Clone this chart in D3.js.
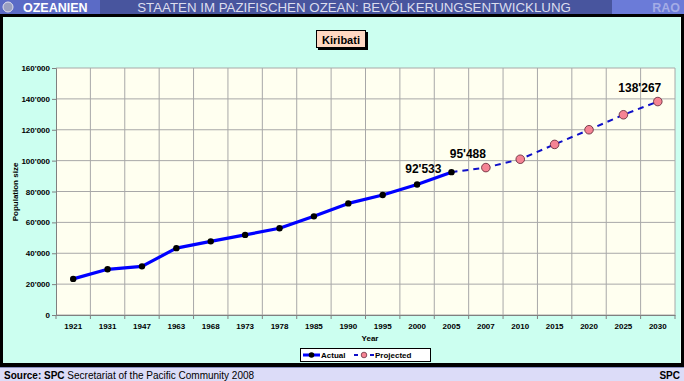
<!DOCTYPE html>
<html><head><meta charset="utf-8">
<script src="https://cdn.jsdelivr.net/npm/d3@7"></script>
<style>html,body{margin:0;padding:0;background:#fff}svg{display:block}</style>
</head><body>
<svg id="c" width="684" height="381"></svg>
<script>
const years = ["1921","1931","1947","1963","1968","1973","1978","1985","1990","1995","2000","2005","2007","2010","2015","2020","2025","2030"];
const actual = [23400,29600,31500,43300,47700,51900,56200,63900,72300,77700,84500,92533,null,null,null,null,null,null];
const projected = [null,null,null,null,null,null,null,null,null,null,null,92533,95488,100900,110500,120000,129700,138267];
const yTicks = [0,20000,40000,60000,80000,100000,120000,140000,160000];
const dataLabels = [{series:"actual",year:"2005",value:92533,text:"92'533"},{series:"projected",year:"2007",value:95488,text:"95'488"},{series:"projected",year:"2030",value:138267,text:"138'267"}];
const headerLeft = "OZEANIEN";
const headerTitle = "STAATEN IM PAZIFISCHEN OZEAN: BEVÖLKERUNGSENTWICKLUNG";
const headerRight = "RAO";
const chartTitle = "Kiribati";

const svg = d3.select("#c");
const F = "'Liberation Sans', Arial, sans-serif";
const fmt = v => d3.format(",")(v).replace(/,/g, "'");

// header
svg.append("rect").attr("x",0).attr("y",0).attr("width",684).attr("height",14).attr("fill","#48559e");
svg.append("rect").attr("x",0).attr("y",0).attr("width",100).attr("height",14).attr("fill","#5b6bc6");
svg.append("rect").attr("x",612).attr("y",0).attr("width",72).attr("height",14).attr("fill","#6b7bd8");
svg.append("circle").attr("cx",8).attr("cy",7).attr("r",5).attr("fill","#9aa0c0").attr("stroke","#e0e0f0").attr("stroke-width",1);
svg.append("text").attr("x",23).attr("y",12).attr("font-family",F).attr("font-weight","bold").attr("font-size",12.5).attr("fill","#ffffff").text(headerLeft);
svg.append("text").attr("x",354).attr("y",12).attr("text-anchor","middle").attr("font-family",F).attr("font-size",13.3).attr("fill","#dcdeee").text(headerTitle);
svg.append("text").attr("x",680).attr("y",12).attr("text-anchor","end").attr("font-family",F).attr("font-weight","bold").attr("font-size",12.5).attr("fill","#a4ace6").text(headerRight);

// panel
svg.append("rect").attr("x",0).attr("y",14).attr("width",684).attr("height",353).attr("fill","#000");
svg.append("rect").attr("x",3).attr("y",17).attr("width",677).attr("height",346).attr("fill","#ccfff0");
svg.append("line").attr("x1",680.5).attr("x2",680.5).attr("y1",17).attr("y2",363).attr("stroke","#e8fff8");

// footer
svg.append("rect").attr("x",0).attr("y",367).attr("width",684).attr("height",14).attr("fill","#dcdcf8");
svg.append("line").attr("x1",0).attr("x2",684).attr("y1",367.5).attr("y2",367.5).attr("stroke","#8890c0");
const ft = svg.append("text").attr("x",4).attr("y",378.5).attr("font-family",F).attr("font-size",10).attr("fill","#000");
ft.append("tspan").attr("font-weight","bold").text("Source: SPC");
ft.append("tspan").text(" Secretariat of the Pacific Community 2008");
svg.append("text").attr("x",680).attr("y",378.5).attr("text-anchor","end").attr("font-family",F).attr("font-weight","bold").attr("font-size",10).text("SPC");

// chart title box
svg.append("rect").attr("x",318).attr("y",32).attr("width",50).attr("height",18).attr("fill","#000");
svg.append("rect").attr("x",316.5).attr("y",30.5).attr("width",49).attr("height",17).attr("fill","#ffd8c2").attr("stroke","#000");
svg.append("text").attr("x",341).attr("y",43.5).attr("text-anchor","middle").attr("font-family",F).attr("font-weight","bold").attr("font-size",11).text(chartTitle);

// scales
const L = 56, R = 675, T = 68, B = 315;
const x = d3.scaleBand().domain(years).range([L, R]).padding(0);
const y = d3.scaleLinear().domain([0,160000]).range([B, T]);
const cx = d => x(d) + x.bandwidth()/2;

svg.append("rect").attr("x",L).attr("y",T).attr("width",R-L).attr("height",B-T).attr("fill","#fffff0");

const g = svg.append("g");
g.selectAll(".hg").data(yTicks).join("line").attr("x1",L).attr("x2",R).attr("y1",d=>y(d)).attr("y2",d=>y(d)).attr("stroke","#a8a8a8");
g.selectAll(".vg").data(years.slice(1)).join("line").attr("x1",d=>x(d)).attr("x2",d=>x(d)).attr("y1",T).attr("y2",B).attr("stroke","#a8a8a8");
g.append("line").attr("x1",R).attr("x2",R).attr("y1",T).attr("y2",B).attr("stroke","#a8a8a8");

// axes
const yAxis = d3.axisLeft(y).tickValues(yTicks).tickFormat(fmt).tickSize(4).tickPadding(2);
const ya = svg.append("g").attr("transform",`translate(${L},0)`).call(yAxis);
ya.selectAll("text").attr("font-family",F).attr("font-weight","bold").attr("font-size",8).attr("fill","#000");
ya.selectAll("line,path").attr("stroke","#808080");

const xAxis = d3.axisBottom(x).tickSize(0).tickPadding(8);
const xa = svg.append("g").attr("transform",`translate(0,${B})`).call(xAxis);
xa.select("path").attr("stroke","#808080");
xa.selectAll("text").attr("font-family",F).attr("font-weight","bold").attr("font-size",8).attr("fill","#000");
xa.selectAll(".bt").data(years.slice(1).concat([null])).join("line")
  .attr("x1",d=>d?x(d):R).attr("x2",d=>d?x(d):R).attr("y1",0).attr("y2",4).attr("stroke","#808080");
svg.append("line").attr("x1",L).attr("x2",L).attr("y1",B).attr("y2",B+4).attr("stroke","#808080");

svg.append("text").attr("x",370).attr("y",341).attr("text-anchor","middle").attr("font-family",F).attr("font-weight","bold").attr("font-size",8).text("Year");
svg.append("text").attr("transform",`translate(18,192) rotate(-90)`).attr("text-anchor","middle").attr("font-family",F).attr("font-weight","bold").attr("font-size",8).text("Population size");

// lines
const line = d3.line().defined(d=>d.v!=null).x(d=>cx(d.k)).y(d=>y(d.v));
const pData = years.map((k,i)=>({k, v:projected[i]}));
const aData = years.map((k,i)=>({k, v:actual[i]}));
svg.append("path").datum(pData).attr("d",line).attr("fill","none").attr("stroke","#1010c8").attr("stroke-width",2).attr("stroke-dasharray","6,5");
svg.append("path").datum(aData).attr("d",line).attr("fill","none").attr("stroke","#0000ff").attr("stroke-width",3.2).attr("stroke-linejoin","round");
svg.selectAll(".pm").data(pData.filter((d,i)=>d.v!=null && actual[i]==null)).join("circle")
  .attr("cx",d=>cx(d.k)).attr("cy",d=>y(d.v)).attr("r",4.3).attr("fill","#f58494").attr("stroke","#5a2030").attr("stroke-width",0.8);
svg.selectAll(".am").data(aData.filter(d=>d.v!=null)).join("circle")
  .attr("cx",d=>cx(d.k)).attr("cy",d=>y(d.v)).attr("r",3.2).attr("fill","#000");

// data labels: actual series labels sit left of the point, projected above-left
svg.selectAll(".dl").data(dataLabels).join("text")
  .attr("x",d=>d.series==="actual" ? cx(d.year)-10 : cx(d.year)-18)
  .attr("y",d=>d.series==="actual" ? y(d.value)+1 : y(d.value)-10)
  .attr("text-anchor",d=>d.series==="actual" ? "end" : "middle")
  .attr("font-family",F).attr("font-weight","bold").attr("font-size",12).text(d=>d.text);

// legend
const lg = svg.append("g");
lg.append("rect").attr("x",300.5).attr("y",348.5).attr("width",130).attr("height",13).attr("fill","#fff").attr("stroke","#000");
lg.append("line").attr("x1",303).attr("x2",320).attr("y1",355).attr("y2",355).attr("stroke","#0000ff").attr("stroke-width",3);
lg.append("circle").attr("cx",311.5).attr("cy",355).attr("r",2.8).attr("fill","#000");
lg.append("text").attr("x",321).attr("y",358).attr("font-family",F).attr("font-weight","bold").attr("font-size",8).text("Actual");
lg.append("line").attr("x1",354).attr("x2",374).attr("y1",355).attr("y2",355).attr("stroke","#1010c8").attr("stroke-width",2).attr("stroke-dasharray","4,4");
lg.append("circle").attr("cx",364).attr("cy",355).attr("r",2.8).attr("fill","#f58494").attr("stroke","#5a2030").attr("stroke-width",0.7);
lg.append("text").attr("x",375).attr("y",358).attr("font-family",F).attr("font-weight","bold").attr("font-size",8).text("Projected");
</script>
</body></html>
